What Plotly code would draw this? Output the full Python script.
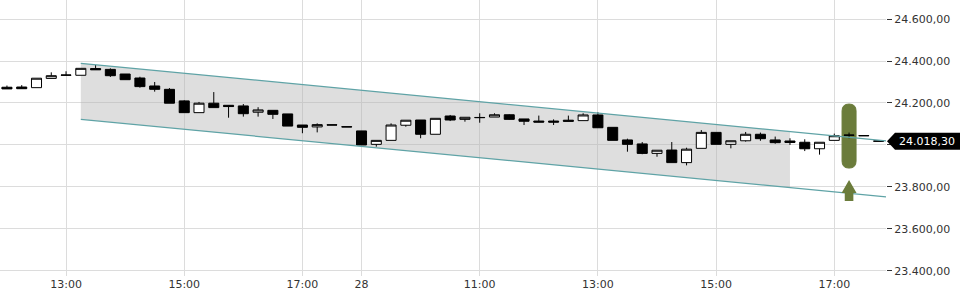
import plotly.graph_objects as go

# ---- data ----
times = ([f"27 {h:02d}:{m:02d}" for h in range(12, 18) for m in (0, 15, 30, 45)] +
         [f"28 {h:02d}:{m:02d}" for h in range(9, 18) for m in (0, 15, 30, 45)])

opens = [24275, 24276, 24273, 24317, 24332, 24332, 24364, 24360, 24338, 24319,
         24281, 24265, 24210, 24154, 24199, 24189, 24186, 24156, 24165, 24148,
         24095, 24086, 24096, 24087, 24067, 24003, 24022, 24094, 24119, 24051,
         24138, 24122, 24130, 24133, 24144, 24124, 24114, 24114, 24118, 24116,
         24143, 24084, 24024, 24005, 23960, 23976, 23916, 23984, 24060, 24003,
         24020, 24051, 24024, 24019, 24013, 23982, 24022, 24046, 24045, 24019]
highs = [24283, 24285, 24318, 24346, 24351, 24365, 24381, 24365, 24338, 24325,
         24300, 24271, 24213, 24205, 24252, 24190, 24195, 24180, 24165, 24148,
         24095, 24103, 24096, 24087, 24067, 24022, 24103, 24118, 24119, 24127,
         24143, 24132, 24151, 24151, 24146, 24124, 24140, 24122, 24140, 24151,
         24156, 24084, 24030, 24014, 23975, 24014, 23987, 24071, 24060, 24020,
         24062, 24059, 24040, 24032, 24027, 24013, 24054, 24059, 24045, 24019]
lows = [24267, 24268, 24273, 24317, 24332, 24332, 24358, 24324, 24311, 24273,
        24254, 24199, 24154, 24154, 24178, 24130, 24135, 24135, 24124, 24090,
        24056, 24060, 24095, 24086, 24000, 23992, 24022, 24087, 24032, 24051,
        24114, 24111, 24106, 24133, 24120, 24095, 24110, 24095, 24113, 24116,
        24082, 24022, 23968, 23956, 23944, 23916, 23903, 23984, 24003, 23984,
        24016, 24020, 24006, 24000, 23971, 23954, 24022, 24032, 24044, 24018.3]
closes = [24267, 24268, 24318, 24330, 24333, 24365, 24358, 24330, 24311, 24278,
          24265, 24199, 24154, 24199, 24178, 24183, 24149, 24167, 24146, 24090,
          24084, 24097, 24095, 24086, 24000, 24022, 24095, 24118, 24051, 24127,
          24119, 24132, 24131, 24144, 24122, 24113, 24109, 24109, 24113, 24143,
          24082, 24022, 24003, 23960, 23975, 23916, 23980, 24060, 24003, 24020,
          24051, 24030, 24011, 24012, 23982, 24013, 24044, 24047, 24044, 24018.3]

tick_positions = ["27 13:00", "27 15:00", "27 17:00", "28 09:00",
                  "28 11:00", "28 13:00", "28 15:00", "28 17:00"]
tick_labels = ["13:00", "15:00", "17:00", "28", "11:00", "13:00", "15:00", "17:00"]
y_ticks = [23400, 23600, 23800, 24000, 24200, 24400, 24600]
y_hidden = [24000]  # label covered by the last-price marker

# trend channel
channel_start = 5
channel_end = 59.5
fill_end = 53
upper_start = 24389
upper_end = 24020
channel_width = 267

# signal marker
signal_time = "28 17:15"
signal_top = 24195
signal_bottom = 23890
arrow_top = 23833

last_price = 24018.30


def de_fmt(v):
    return f"{v:,.2f}".replace(",", "X").replace(".", ",").replace("X", ".")


# ---- build ----
idx = list(range(len(times)))
pos = {t: i for i, t in enumerate(times)}
slope = (upper_end - upper_start) / (channel_end - channel_start)


def upper(x):
    return upper_start + slope * (x - channel_start)


fig = go.Figure()

# channel fill (shape below traces, above grid)
fpts = [(channel_start, upper(channel_start)), (fill_end, upper(fill_end)),
        (fill_end, upper(fill_end) - channel_width),
        (channel_start, upper(channel_start) - channel_width)]
fpath = "M " + " L ".join(f"{x},{y}" for x, y in fpts) + " Z"
fig.add_shape(type="path", xref="x", yref="y", path=fpath,
              fillcolor="rgba(176,176,176,0.42)", line=dict(width=0), layer="between")

# channel lines
line_col = "#5fa3a6"
for off in (0, channel_width):
    fig.add_trace(go.Scatter(x=[channel_start, channel_end],
                             y=[upper(channel_start) - off, upper(channel_end) - off],
                             mode="lines", line=dict(color=line_col, width=1.2),
                             hoverinfo="skip", showlegend=False))

fig.add_trace(go.Candlestick(
    x=idx, open=opens, high=highs, low=lows, close=closes,
    increasing=dict(line=dict(color="rgb(0,0,0)", width=1), fillcolor="rgb(255,255,255)"),
    decreasing=dict(line=dict(color="rgb(0,0,0)", width=1), fillcolor="rgb(0,0,0)"),
    whiskerwidth=0, opacity=1, showlegend=False))

green = "#6b7c3b"
sx = pos[signal_time]
r = 7
ry = 33
pill = (f"M -{r},{signal_top - ry} Q -{r},{signal_top} 0,{signal_top} "
        f"Q {r},{signal_top} {r},{signal_top - ry} "
        f"L {r},{signal_bottom + ry} Q {r},{signal_bottom} 0,{signal_bottom} "
        f"Q -{r},{signal_bottom} -{r},{signal_bottom + ry} Z")
fig.add_shape(type="path", xref="x", yref="y", xsizemode="pixel", xanchor=sx,
              path=pill, fillcolor=green, line=dict(color=green, width=1),
              layer="between")
arrow = ("M 0,0 L 7.5,-13 L 4.3,-13 L 4.3,-21 L -4.3,-21 L -4.3,-13 L -7.5,-13 Z")
fig.add_shape(type="path", xref="x", yref="y", xsizemode="pixel", ysizemode="pixel",
              xanchor=sx, yanchor=arrow_top, path=arrow, fillcolor=green,
              line=dict(width=0), layer="above")

# last price label
fig.add_shape(type="path", xref="paper", yref="y", xsizemode="pixel", ysizemode="pixel",
              xanchor=1, yanchor=last_price,
              path="M 1,0 L 9,8.5 L 76,8.5 L 76,-8.5 L 9,-8.5 Z",
              fillcolor="black", line=dict(width=0), layer="above")
fig.add_annotation(xref="paper", yref="y", x=1, y=last_price, xanchor="left",
                   yanchor="middle", xshift=11, showarrow=False,
                   text=de_fmt(last_price),
                   font=dict(family="DejaVu Sans", size=11, color="white"))

fig.update_layout(
    width=960, height=300,
    margin=dict(l=0, r=74, t=0, b=24),
    paper_bgcolor="white", plot_bgcolor="white",
    boxgap=0.32, boxgroupgap=0,
    font=dict(family="DejaVu Sans", size=11, color="#333333"),
    showlegend=False,
    xaxis=dict(range=[-0.47, 59.5], tickvals=[pos[t] for t in tick_positions],
               ticktext=tick_labels, showgrid=True, gridcolor="#dcdcdc",
               gridwidth=1, zeroline=False, showline=False, ticks="",
               rangeslider=dict(visible=False), tickfont=dict(size=11, color="#333")),
    yaxis=dict(range=[23376, 24690.5], side="right", tickvals=y_ticks,
               ticktext=["" if v in y_hidden else de_fmt(v) for v in y_ticks],
               showgrid=True, gridcolor="#dcdcdc",
               zeroline=False, showline=False, ticks="outside", ticklen=5,
               tickcolor="#333", tickfont=dict(size=11, color="#333")),
)

fig.write_html("out.html")
